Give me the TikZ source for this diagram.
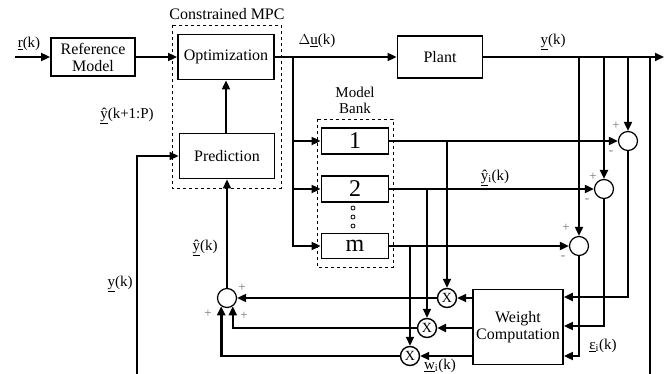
\documentclass[tikz,border=0pt]{standalone}
\usepackage{fontspec}
\setmainfont{Liberation Serif}
\usetikzlibrary{arrows.meta}
\newcommand{\hy}{\underline{ŷ}}
\begin{document}
\begin{tikzpicture}[x=1pt,y=-1pt,
  blk/.style={draw, line width=1.8pt, inner sep=0pt, align=center, font=\fontsize{16}{17}\selectfont},
  bank/.style={draw, line width=1.8pt, inner sep=0pt, minimum width=67pt, font=\fontsize{24}{24}\selectfont},
  sumc/.style={draw, circle, line width=1.2pt, minimum size=19pt, inner sep=0pt},
  mulc/.style={draw, circle, line width=1.4pt, minimum size=19pt, inner sep=0pt, font=\fontsize{14}{14}\selectfont},
  grp/.style={draw, dashed, line width=0.8pt},
  lbl/.style={inner sep=0pt, font=\fontsize{15}{16}\selectfont, align=center},
  sgn/.style={inner sep=0pt, text=black!55, font=\fontsize{13}{13}\selectfont},
  ln/.style={line width=1.8pt},
  thk/.style={line width=2.6pt},
  thn/.style={line width=1.3pt},
  arr/.style={-{Triangle[length=9pt,width=8pt]}},
]
\useasboundingbox (0,0) rectangle (664,374);
% dashed groups
\draw[grp] (172,25) rectangle (281,188);
\draw[grp] (317,119) rectangle (393,267);
% blocks
\node[blk, minimum width=84pt, minimum height=38pt] (ref) at (93,57) {Reference\\Model};
\node[blk, minimum width=96pt, minimum height=45pt] (opt) at (226,57) {Optimization};
\node[blk, minimum width=95pt, minimum height=45pt] (pred) at (227,156) {Prediction};
\node[blk, minimum width=85pt, minimum height=42pt] (plant) at (440,57) {Plant};
\node[bank, minimum height=26pt] (b1) at (355,141) {1};
\node[bank, minimum height=26pt] (b2) at (355,189) {2};
\node[bank, minimum height=25pt] (bm) at (355,246) {m};
\node[blk, minimum width=90pt, minimum height=75pt] (wc) at (518,327) {Weight\\Computation};
% dots
\foreach \yy/\nm in {208/d1,217/d2,226/d3}
  \node[draw, circle, line width=0.8pt, minimum size=4pt, inner sep=0pt] (\nm) at (353,\yy) {};
% summing and multiplying junctions
\node[sumc] (s0) at (227,298) {};
\node[sumc] (s1) at (628,141) {};
\node[sumc] (s2) at (604,189) {};
\node[sumc] (s3) at (579,246) {};
\node[mulc] (x1) at (447,298) {X};
\node[mulc] (x2) at (427,328) {X};
\node[mulc] (x3) at (410,356) {X};
% coordinates
\coordinate (in) at (15,57);
\coordinate (out) at (664,57);
\coordinate (br) at (293,57);
\coordinate (fb) at (137,374);
\coordinate (r1) at (0,297);
\coordinate (r2) at (0,326);
\coordinate (r3) at (0,356);
\coordinate (t4) at (650,57);
\coordinate (b4) at (650,374);
% top path
\draw[ln,arr] (in) -- (ref.west);
\draw[ln,arr] (ref.east) -- (opt.west);
\draw[ln,arr] (opt.east) -- (plant.west);
\draw[ln,arr] (plant.east) -- (out);
% MPC internals
\draw[ln,arr] (pred.north -| opt.south) -- (opt.south);
\draw[thn,arr] (fb) |- (pred.west);
\draw[thn,arr] (s0.north) -- (s0.north |- pred.south);
% branch to model bank
\draw[ln,arr] (br) |- (bm.west);
\draw[ln,arr] (br |- b1.west) -- (b1.west);
\draw[ln,arr] (br |- b2.west) -- (b2.west);
% model outputs to comparators
\draw[ln,arr] (b1.east) -- (s1.west);
\draw[ln,arr] (b2.east) -- (s2.west);
\draw[ln,arr] (bm.east) -- (s3.west);
% plant output drops
\draw[ln,arr] (s1.north |- plant.east) -- (s1.north);
\draw[thk,arr] (s2.north |- plant.east) -- (s2.north);
\draw[ln,arr] (s3.north |- plant.east) -- (s3.north);
\draw[ln] (t4) -- (b4);
% errors to weight computation
\draw[thk,arr] (s1.south) |- (wc.east |- r1);
\draw[ln,arr] (s2.south) |- (wc.east |- r2);
\draw[ln,arr] (s3.south) |- (wc.east |- r3);
% model outputs to multipliers
\draw[ln,arr] (x1.north |- b1.east) -- (x1.north);
\draw[ln,arr] (x2.north |- b2.east) -- (x2.north);
\draw[ln,arr] (x3.north |- bm.east) -- (x3.north);
% weights to multipliers
\draw[ln,arr] (wc.west |- x1.east) -- (x1.east);
\draw[thk,arr] (wc.west |- x2.east) -- (x2.east);
\draw[ln,arr] (wc.west |- x3.east) -- (x3.east);
% multipliers to sum
\draw[ln,arr] (x1.west) -- (s0.east);
\draw[ln,arr] (x2.west) -| (s0.-55);
\draw[thk,arr] (x3.west) -| (s0.-125);
% labels
\node[lbl] (lr) at (29,44) {\underline{r}(k)};
\node[lbl, font=\fontsize{16}{17}\selectfont] (lmpc) at (227,14) {Constrained MPC};
\node[lbl] (lyp) at (127,116) {\hy(k+1:P)};
\node[lbl] (lyk) at (120,284) {\underline{y}(k)};
\node[lbl] (lyh) at (205,248) {\hy(k)};
\node[lbl] (ldu) at (317,41) {$\Delta$\underline{u}(k)};
\node[lbl] (lbank) at (355,100) {Model\\Bank};
\node[lbl] (lyo) at (553,42) {\underline{y}(k)};
\node[lbl] (lyi) at (495,178) {\hy\textsubscript{i}(k)};
\node[lbl] (leps) at (603,346) {\underline{ε}\textsubscript{i}(k)};
\node[lbl] (lw) at (440,366) {\underline{w}\textsubscript{i}(k)};
% signs
\node[sgn] at (242,288) {+};
\node[sgn] at (208,314) {+};
\node[sgn] at (244,316) {+};
\node[sgn] at (616,126) {+};
\node[sgn] at (611,153) {-};
\node[sgn] at (593,177) {+};
\node[sgn] at (587,201) {-};
\node[sgn] at (566,228) {+};
\node[sgn] at (563,258) {-};
\end{tikzpicture}
\end{document}
